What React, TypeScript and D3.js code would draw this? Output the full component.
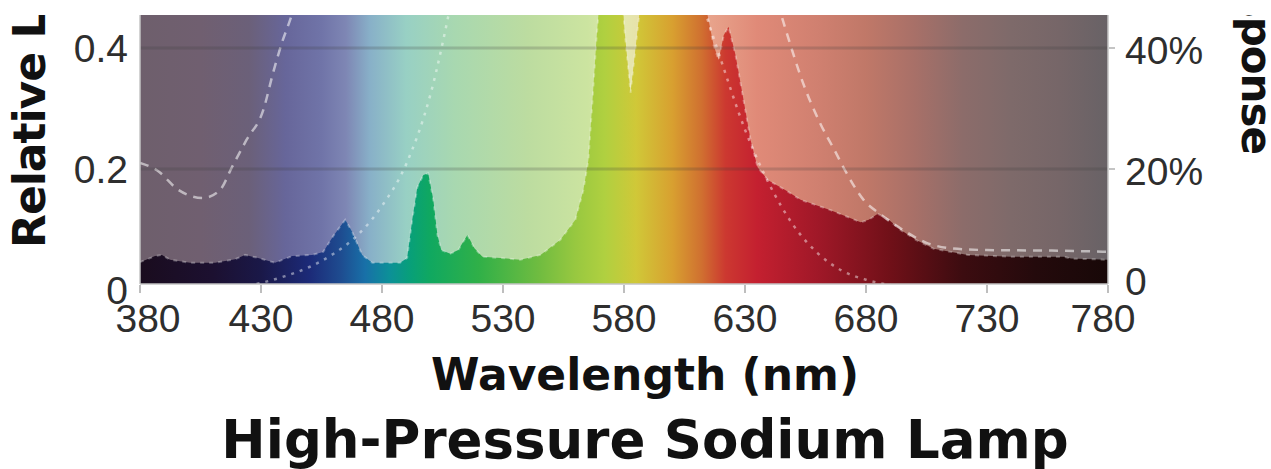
import React, { useEffect, useRef } from "react";
import * as d3 from "d3";

const W = 1271;
const H = 469;

// axis ticks
const xTicks = [380, 430, 480, 530, 580, 630, 680, 730, 780];
const yLeftTicks = [0, 0.2, 0.4];
const yRightTicks = [0, 20, 40];

// lamp spectrum (relative, left axis)
const spdNm = [
  380, 386.2, 389.1, 392.4, 400.7, 411, 419.3, 423.4, 428.8, 435.8, 442.9,
  451.1, 455.7, 459.8, 464.8, 467.7, 471.8, 476, 487.5, 490.4, 492.5, 494.6,
  497.1, 499.1, 501.2, 502.9, 504.5, 508.2, 511.5, 515.3, 518.2, 521.5, 528.9,
  537.2, 545.5, 553.7, 559.9, 563.2, 565.3, 567, 568.6, 570.3, 574.4, 578.6,
  580.2, 582.7, 585.6, 588.9, 599.2, 609.6, 614.5, 617, 619.1, 621.2, 623.2,
  626.1, 629.4, 632.3, 635.2, 639.4, 646.8, 653, 665.4, 677.8, 681.1, 684.9,
  689.4, 694.4, 700.6, 708, 722.1, 739.9, 761.8, 764.7, 780,
];
const spdVal = [
  0.046, 0.056, 0.058, 0.05, 0.045, 0.045, 0.051, 0.058, 0.053, 0.045, 0.056,
  0.058, 0.063, 0.089, 0.116, 0.096, 0.058, 0.045, 0.045, 0.053, 0.116, 0.17,
  0.19, 0.193, 0.149, 0.091, 0.066, 0.06, 0.066, 0.091, 0.069, 0.055, 0.053,
  0.05, 0.058, 0.083, 0.116, 0.165, 0.215, 0.314, 0.413, 0.5, 0.55, 0.53,
  0.43, 0.326, 0.43, 0.55, 0.58, 0.55, 0.455, 0.405, 0.38, 0.421, 0.435,
  0.388, 0.314, 0.248, 0.203, 0.182, 0.165, 0.149, 0.132, 0.112, 0.116, 0.126,
  0.116, 0.099, 0.083, 0.068, 0.058, 0.055, 0.055, 0.052, 0.05,
];

// response curve (dashed, right axis %)
const respNm = [
  380, 387, 396, 406, 413, 418, 424, 431, 435, 439, 442, 446, 460, 500, 550,
  600, 630, 640, 646, 654, 661, 667, 672, 679, 686, 695, 705, 715, 730, 760,
  780,
];
const respPct = [
  21, 19.8, 16.5, 15.2, 16.5, 20.3, 24.8, 29.8, 35.9, 41.3, 44.6, 50, 60, 65,
  70, 70, 60, 52, 44.1, 34.2, 27.6, 23.1, 19.3, 14.9, 12.5, 10, 7.8, 6.9, 6.6,
  6.5, 6.3,
];

// photopic eye response (dotted, right axis %)
const photopicNm = [
  380, 390, 400, 410, 420, 430, 440, 450, 460, 470, 480, 490, 500, 510, 520,
  530, 540, 550, 560, 570, 580, 590, 600, 610, 620, 630, 640, 650, 660, 670,
  680, 690, 700, 710, 720, 730, 740, 750, 760, 770, 780,
];
const photopicPct = [
  0, 0.01, 0.04, 0.12, 0.4, 1.16, 2.3, 3.8, 6, 9.1, 13.9, 20.8, 32.3, 50.3, 71,
  86.2, 95.4, 99.5, 99.5, 95.2, 87, 75.7, 63.1, 50.3, 38.1, 26.5, 17.5, 10.7,
  6.1, 3.2, 1.7, 0.82, 0.41, 0.21, 0.1, 0.05, 0.03, 0.01, 0.01, 0, 0,
];

// muted background spectrum
const bgStops: [number, string][] = [
  [380, "#6e5f6c"], [405, "#705f70"], [425, "#6b6079"], [440, "#67669a"],
  [455, "#7074a8"], [465, "#7e86b4"], [475, "#88b0c8"], [490, "#98d0c4"],
  [510, "#a8d8b0"], [540, "#bcdca0"], [565, "#cce4a0"], [580, "#e4e8b0"],
  [595, "#ecd8a0"], [615, "#e8a48c"], [635, "#e08a78"], [660, "#d08070"],
  [680, "#c07868"], [700, "#a87068"], [720, "#8c6c6a"], [740, "#7e6a6a"],
  [760, "#766668"], [780, "#686266"],
];

// saturated lamp spectrum colours
const spdStops: [number, string][] = [
  [380, "#1a0c1e"], [410, "#1c1030"], [430, "#1a1848"], [450, "#1c2a78"],
  [463, "#1e4c90"], [473, "#1870a8"], [483, "#0c9098"], [492, "#08a078"],
  [500, "#10a860"], [520, "#30b048"], [545, "#70bc40"], [560, "#98c840"],
  [572, "#b0d040"], [585, "#d0c838"], [600, "#d8a030"], [612, "#d07030"],
  [622, "#cc3830"], [635, "#c42030"], [660, "#a01828"], [690, "#701018"],
  [720, "#3c0c10"], [750, "#240a0c"], [780, "#180808"],
];

export default function App() {
  const svgRef = useRef<SVGSVGElement | null>(null);

  useEffect(() => {
    if (!svgRef.current) return;
    const svg = d3.select(svgRef.current);
    svg.selectAll("*").remove();

    const x = d3.scaleLinear().domain([380, 780]).range([140, 1108]);
    const y = d3.scaleLinear().domain([0, 0.4]).range([290, 48]);
    const yR = d3.scaleLinear().domain([0, 40]).range([290, 48]);
    const plotTop = 15;
    const plotBottom = 284;

    const defs = svg.append("defs");
    defs
      .append("clipPath")
      .attr("id", "crop")
      .append("rect")
      .attr("x", 0)
      .attr("y", plotTop)
      .attr("width", W)
      .attr("height", H - plotTop);
    defs
      .append("clipPath")
      .attr("id", "plot")
      .append("rect")
      .attr("x", x(380))
      .attr("y", plotTop)
      .attr("width", x(780) - x(380))
      .attr("height", plotBottom - plotTop);

    const gradient = (id: string, stops: [number, string][]) => {
      const g = defs
        .append("linearGradient")
        .attr("id", id)
        .attr("gradientUnits", "userSpaceOnUse")
        .attr("x1", x(380))
        .attr("x2", x(780))
        .attr("y1", 0)
        .attr("y2", 0);
      stops.forEach(([nm, c]) =>
        g.append("stop").attr("offset", (nm - 380) / 400).attr("stop-color", c)
      );
    };
    gradient("bgGrad", bgStops);
    gradient("spdGrad", spdStops);

    const root = svg.append("g").attr("clip-path", "url(#crop)");
    const plot = root.append("g").attr("clip-path", "url(#plot)");

    // background
    plot
      .append("rect")
      .attr("x", x(380))
      .attr("y", plotTop)
      .attr("width", x(780) - x(380))
      .attr("height", plotBottom - plotTop)
      .attr("fill", "url(#bgGrad)");

    // lamp spectrum
    const spd = spdNm.map((nm, i) => ({ nm, v: spdVal[i] }));
    plot
      .append("path")
      .datum(spd)
      .attr("fill", "url(#spdGrad)")
      .attr(
        "d",
        d3
          .area<{ nm: number; v: number }>()
          .x((d) => x(d.nm))
          .y0(plotBottom)
          .y1((d) => y(d.v))
      );
    plot
      .append("path")
      .datum(spd)
      .attr("fill", "none")
      .attr("stroke", "#fff")
      .attr("stroke-opacity", 0.3)
      .attr("stroke-width", 2)
      .attr("stroke-dasharray", "4 5")
      .attr(
        "d",
        d3
          .line<{ nm: number; v: number }>()
          .x((d) => x(d.nm))
          .y((d) => y(d.v))
      );

    // response curves (right axis)
    const pctLine = d3
      .line<{ nm: number; p: number }>()
      .curve(d3.curveMonotoneX)
      .x((d) => x(d.nm))
      .y((d) => yR(d.p));
    plot
      .append("path")
      .datum(respNm.map((nm, i) => ({ nm, p: respPct[i] })))
      .attr("fill", "none")
      .attr("stroke", "#fff")
      .attr("stroke-opacity", 0.55)
      .attr("stroke-width", 2.5)
      .attr("stroke-dasharray", "9 7")
      .attr("d", pctLine);
    plot
      .append("path")
      .datum(photopicNm.map((nm, i) => ({ nm, p: photopicPct[i] })))
      .attr("fill", "none")
      .attr("stroke", "#fff")
      .attr("stroke-opacity", 0.45)
      .attr("stroke-width", 2.5)
      .attr("stroke-dasharray", "3 6")
      .attr("d", pctLine);

    // gridlines
    plot
      .selectAll("line.grid")
      .data(yLeftTicks.filter((t) => t > 0))
      .join("line")
      .attr("class", "grid")
      .attr("x1", x(380))
      .attr("x2", x(780))
      .attr("y1", (d) => y(d))
      .attr("y2", (d) => y(d))
      .attr("stroke", "#3a3a3a")
      .attr("stroke-opacity", 0.22)
      .attr("stroke-width", 3);

    // frame edges
    const frame = root.append("g").attr("stroke", "#c4c4c4").attr("stroke-width", 1.5);
    frame.append("line").attr("x1", x(380)).attr("x2", x(380)).attr("y1", plotTop).attr("y2", plotBottom);
    frame.append("line").attr("x1", x(780)).attr("x2", x(780)).attr("y1", plotTop).attr("y2", plotBottom);
    frame.append("line").attr("x1", x(380)).attr("x2", x(780)).attr("y1", plotBottom).attr("y2", plotBottom);

    // x ticks + labels
    const tickFont = "'Liberation Sans', Arial, Helvetica, sans-serif";
    root
      .selectAll("line.xt")
      .data(xTicks)
      .join("line")
      .attr("class", "xt")
      .attr("x1", (d) => x(d))
      .attr("x2", (d) => x(d))
      .attr("y1", plotBottom + 1)
      .attr("y2", plotBottom + 9)
      .attr("stroke", "#a8a8a8")
      .attr("stroke-width", 1.5);
    root
      .selectAll("text.xl")
      .data(xTicks)
      .join("text")
      .attr("class", "xl")
      .attr("x", (d, i) => x(d) + (i === 0 ? 8 : i === xTicks.length - 1 ? -5 : 0))
      .attr("y", 332)
      .attr("text-anchor", "middle")
      .attr("font-family", tickFont)
      .attr("font-size", 39)
      .attr("fill", "#2e2e2e")
      .text((d) => d);

    // left y labels
    root
      .selectAll("text.yl")
      .data(yLeftTicks)
      .join("text")
      .attr("class", "yl")
      .attr("x", 128)
      .attr("y", (d) => y(d))
      .attr("dy", "0.36em")
      .attr("text-anchor", "end")
      .attr("font-family", tickFont)
      .attr("font-size", 39)
      .attr("fill", "#2e2e2e")
      .text((d) => (d === 0 ? "0" : d.toFixed(1)));

    // right y ticks + labels
    root
      .selectAll("line.yrt")
      .data(yRightTicks.filter((t) => t > 0))
      .join("line")
      .attr("class", "yrt")
      .attr("x1", x(780) + 1)
      .attr("x2", x(780) + 7)
      .attr("y1", (d) => yR(d))
      .attr("y2", (d) => yR(d))
      .attr("stroke", "#b0b0b0")
      .attr("stroke-width", 1.5);
    root
      .selectAll("text.yr")
      .data(yRightTicks)
      .join("text")
      .attr("class", "yr")
      .attr("x", 1125)
      .attr("y", (d) => yR(d) + (d === 0 ? -9 : 2))
      .attr("dy", "0.36em")
      .attr("text-anchor", "start")
      .attr("font-family", tickFont)
      .attr("font-size", 39)
      .attr("fill", "#2e2e2e")
      .text((d) => (d === 0 ? "0" : `${d}%`));

    // titles
    const titleFont = "'DejaVu Sans', Verdana, sans-serif";
    root
      .append("text")
      .attr("x", 645)
      .attr("y", 390)
      .attr("text-anchor", "middle")
      .attr("font-family", titleFont)
      .attr("font-weight", "bold")
      .attr("font-size", 44)
      .attr("fill", "#111")
      .text("Wavelength (nm)");
    root
      .append("text")
      .attr("x", 645)
      .attr("y", 458)
      .attr("text-anchor", "middle")
      .attr("font-family", titleFont)
      .attr("font-weight", "bold")
      .attr("font-size", 53)
      .attr("fill", "#111")
      .text("High-Pressure Sodium Lamp");
    root
      .append("text")
      .attr("transform", "translate(45,248) rotate(-90)")
      .attr("text-anchor", "start")
      .attr("font-family", titleFont)
      .attr("font-weight", "bold")
      .attr("font-size", 44)
      .attr("letter-spacing", -1)
      .attr("fill", "#111")
      .text("Relative Light Output");
    root
      .append("text")
      .attr("transform", "translate(1242,154) rotate(90)")
      .attr("text-anchor", "end")
      .attr("font-family", titleFont)
      .attr("font-weight", "bold")
      .attr("font-size", 42)
      .attr("letter-spacing", -1)
      .attr("fill", "#111")
      .text("Relative Response");
  }, []);

  return (
    <div style={{ position: "fixed", left: 0, top: 0, background: "#fff" }}>
      <svg ref={svgRef} width={W} height={H} style={{ display: "block" }} />
    </div>
  );
}
